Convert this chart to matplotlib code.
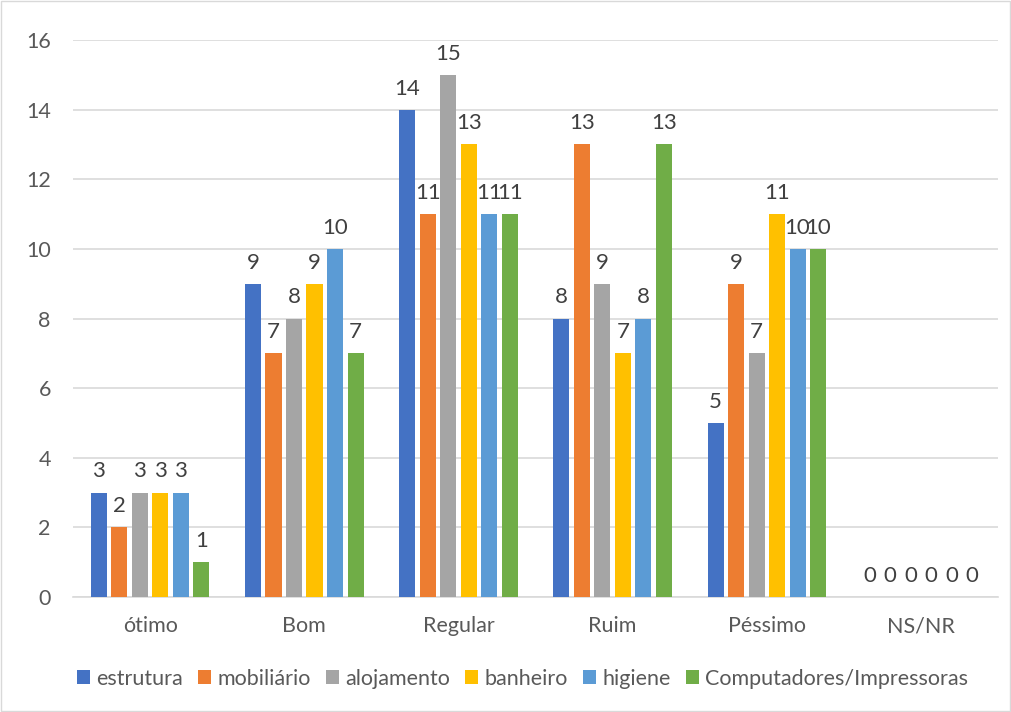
import matplotlib
matplotlib.use("Agg")
import matplotlib.pyplot as plt
from matplotlib.patches import Rectangle
import numpy as np

categories = ["ótimo", "Bom", "Regular", "Ruim", "Péssimo", "NS/NR"]
series_names = ["estrutura", "mobiliário", "alojamento", "banheiro", "higiene",
                "Computadores/Impressoras"]
estrutura = [3, 9, 14, 8, 5, 0]
mobiliario = [2, 7, 11, 13, 9, 0]
alojamento = [3, 8, 15, 9, 7, 0]
banheiro = [3, 9, 13, 7, 11, 0]
higiene = [3, 10, 11, 8, 10, 0]
computadores = [1, 7, 11, 13, 10, 0]
yticks = [0, 2, 4, 6, 8, 10, 12, 14, 16]

colors = ["#4472C4", "#ED7D31", "#A5A5A5", "#FFC000", "#5B9BD5", "#70AD47"]
text_color = "#595959"

plt.rcParams["font.family"] = ["Lato", "DejaVu Sans"]

fig = plt.figure(figsize=(10.11, 7.12), dpi=100)
ax = fig.add_axes([0.0722, 0.1615, 0.915, 0.7823])

x = np.arange(len(categories))
pitch = 0.133
width = 0.104
all_series = [estrutura, mobiliario, alojamento, banheiro, higiene, computadores]
for i, (name, vals, c) in enumerate(zip(series_names, all_series, colors)):
    pos = x + (i - 2.5) * pitch
    bars = ax.bar(pos, vals, width=width, color=c, label=name, zorder=3)
    for b, v in zip(bars, vals):
        ax.annotate(str(v), (b.get_x() + b.get_width() / 2, v),
                    xytext=(0, 8), textcoords="offset points",
                    ha="center", va="bottom", fontsize=16, color="#404040")

ax.set_xlim(-0.5, len(categories) - 0.5)
ax.set_ylim(0, 16)
ax.set_yticks(yticks)
ax.set_xticks(x)
ax.set_xticklabels(categories)
ax.tick_params(axis="both", length=0, labelsize=15.5, colors=text_color)
ax.tick_params(axis="x", pad=14)
ax.tick_params(axis="y", pad=16)
ax.grid(axis="y", color="#D9D9D9", linewidth=1.2, zorder=0)
for s in ["top", "right", "left"]:
    ax.spines[s].set_visible(False)
ax.spines["bottom"].set_color("#D9D9D9")
ax.spines["bottom"].set_linewidth(1.2)

leg = fig.legend(loc="center", bbox_to_anchor=(0.517, 0.047), ncol=6, frameon=False,
                 fontsize=15.5, handlelength=0.6, handleheight=0.6,
                 handletextpad=0.3, columnspacing=0.7)
for t in leg.get_texts():
    t.set_color(text_color)

fig.patches.append(Rectangle((0.001, 0.001), 0.998, 0.998, transform=fig.transFigure,
                             fill=False, edgecolor="#D9D9D9", linewidth=1))

fig.savefig("out.png", dpi=100)
